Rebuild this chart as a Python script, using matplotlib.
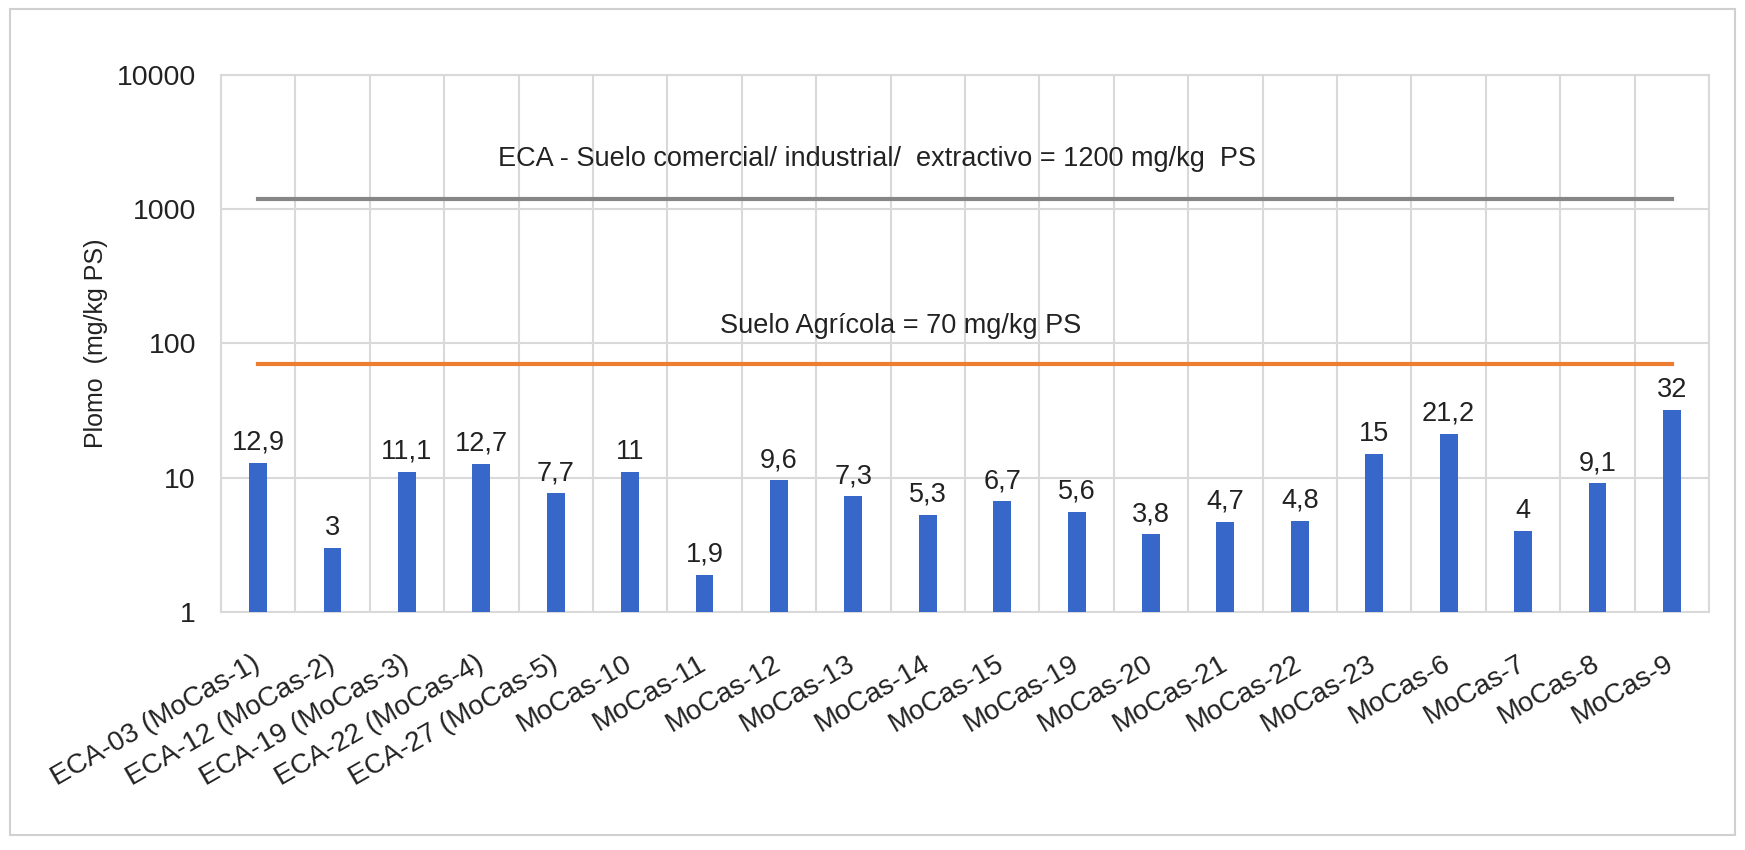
import matplotlib.pyplot as plt
from matplotlib.patches import Rectangle
import numpy as np

plt.rcParams['font.family'] = ['Liberation Sans', 'DejaVu Sans']

muestras = ['ECA-03 (MoCas-1)', 'ECA-12 (MoCas-2)', 'ECA-19 (MoCas-3)',
            'ECA-22 (MoCas-4)', 'ECA-27 (MoCas-5)', 'MoCas-10', 'MoCas-11',
            'MoCas-12', 'MoCas-13', 'MoCas-14', 'MoCas-15', 'MoCas-19',
            'MoCas-20', 'MoCas-21', 'MoCas-22', 'MoCas-23', 'MoCas-6',
            'MoCas-7', 'MoCas-8', 'MoCas-9']
plomo = [12.9, 3, 11.1, 12.7, 7.7, 11, 1.9, 9.6, 7.3, 5.3, 6.7, 5.6, 3.8,
         4.7, 4.8, 15, 21.2, 4, 9.1, 32]
eca_industrial = 1200
eca_agricola = 70
yticks = [1, 10, 100, 1000, 10000]

fig = plt.figure(figsize=(17.45, 8.5), dpi=100)
ax = fig.add_axes([0.1266, 0.28, 0.8528, 0.6318])

x = np.arange(len(muestras))
ax.bar(x, plomo, width=0.24, color='#3767c8', zorder=3)

for xi, v in zip(x, plomo):
    txt = ('%g' % v).replace('.', ',')
    ax.annotate(txt, (xi, v), xytext=(0, 5), textcoords='offset points',
                ha='center', va='bottom', fontsize=19.5, color='#222222')

# limit lines, drawn from first to last category like a line series
ax.plot([x[0], x[-1]], [eca_industrial] * 2, color='#868686', lw=3, zorder=4)
ax.plot([x[0], x[-1]], [eca_agricola] * 2, color='#ed7d31', lw=3, zorder=4)
ax.text(0.441, 0.8436,
        'ECA - Suelo comercial/ industrial/  extractivo = %d mg/kg  PS' % eca_industrial,
        transform=ax.transAxes, ha='center', va='center', fontsize=19.5,
        color='#222222')
ax.text(0.457, 0.5326, 'Suelo Agrícola = %d mg/kg PS' % eca_agricola,
        transform=ax.transAxes, ha='center', va='center', fontsize=19.5,
        color='#222222')

ax.set_yscale('log')
ax.set_ylim(1, 10000)
ax.set_yticks(yticks)
ax.set_yticklabels([str(t) for t in yticks])
ax.minorticks_off()
ax.set_xlim(-0.5, len(muestras) - 0.5)
ax.set_xticks(x)
ax.set_xticklabels(muestras, rotation=30, ha='right', va='center',
                   rotation_mode='anchor')
ax.tick_params(axis='x', length=0, pad=36, labelsize=20, labelcolor='#222222')
ax.tick_params(axis='y', length=0, pad=18, labelsize=20.5, labelcolor='#222222')

ax.set_xticks(np.arange(len(muestras) + 1) - 0.5, minor=True)
ax.grid(True, axis='y', which='major', color='#d9d9d9', lw=1.5, zorder=0)
ax.grid(True, axis='x', which='minor', color='#d9d9d9', lw=1.5, zorder=0)
ax.tick_params(axis='x', which='minor', length=0)
for s in ax.spines.values():
    s.set_color('#d9d9d9')
    s.set_linewidth(1.5)

ax.set_ylabel('Plomo  (mg/kg PS)', fontsize=18, color='#222222', labelpad=6)

# outer chart border
fig.patches.append(Rectangle((10 / 1745, 15 / 850), 1725 / 1745, 826 / 850,
                             transform=fig.transFigure, fill=False,
                             edgecolor='#d0d0d0', lw=1.5))

fig.savefig('out.png', dpi=100)
